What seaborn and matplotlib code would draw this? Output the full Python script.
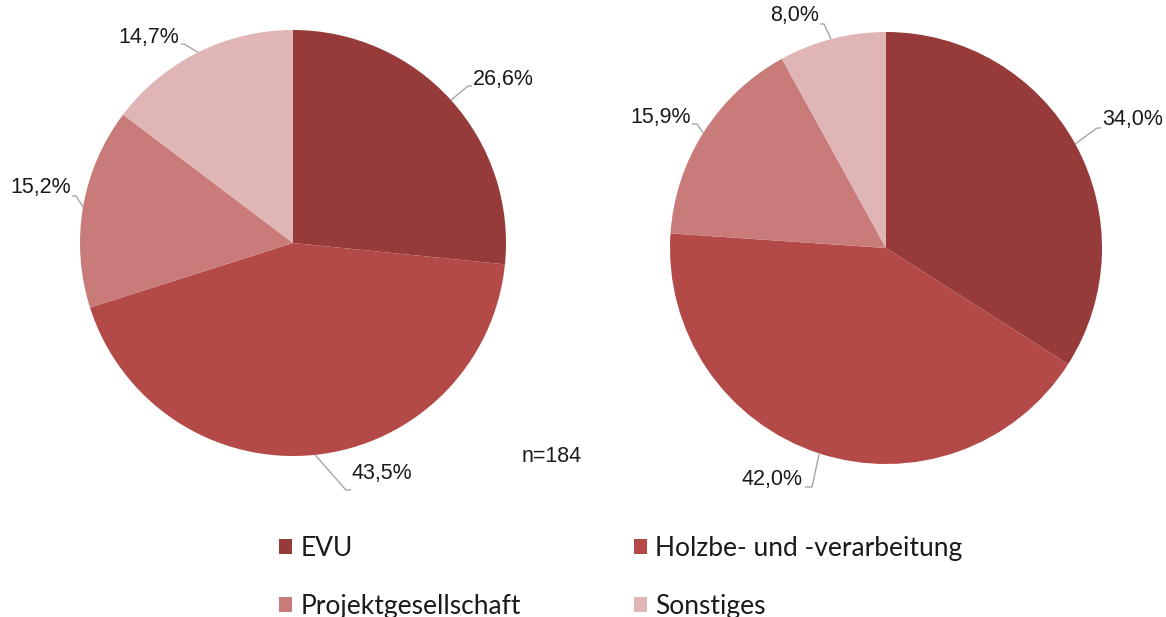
import numpy as np
import matplotlib
matplotlib.use("Agg")
import matplotlib.pyplot as plt
import seaborn as sns
from matplotlib.patches import Patch

# data
categories = ["EVU", "Holzbe- und -verarbeitung", "Projektgesellschaft", "Sonstiges"]
left_values = [26.6, 43.5, 15.2, 14.7]
right_values = [34.0, 42.0, 15.9, 8.0]
colors = ["#963a3a", "#b34a48", "#c97b7a", "#dfb6b5"]
n_note = "n=184"

sns.set_theme(style="white")
plt.rcParams["font.family"] = ["Liberation Sans", "DejaVu Sans"]

W, H = 1166, 617
fig = plt.figure(figsize=(W / 100, H / 100), dpi=100)
ax = fig.add_axes([0, 0, 1, 1])


def py(y):
    # pixel row -> axis y
    return H - y


def draw_pie(values, cx, cy, r, labels):
    ax.pie(values, colors=colors, startangle=90, counterclock=False,
           center=(cx, py(cy)), radius=r, wedgeprops=dict(linewidth=0),
           frame=True)
    cum = np.cumsum([0] + values[:-1])
    for v, c, (elbow, end, tx, ty, ha) in zip(values, cum, labels):
        ang = np.deg2rad(90 - (c + v / 2) * 3.6)
        ex, ey = cx + r * np.cos(ang), cy - r * np.sin(ang)
        ax.plot([ex, elbow[0], end[0]], [py(ey), py(elbow[1]), py(end[1])],
                color="#a6a6a6", lw=1.0, solid_capstyle="butt")
        ax.text(tx, py(ty), f"{v:.1f}%".replace(".", ","), ha=ha, va="center",
                fontsize=15.5, color="#1a1a1a")


# (elbow, line end, text x, text y, align)
left_labels = [
    ((468, 86), (472, 86), 473, 80, "left"),
    ((346, 490), (351, 490), 352, 473, "left"),
    ((76, 196), (72, 196), 71, 188, "right"),
    ((184, 44), (181, 44), 179, 38, "right"),
]
right_labels = [
    ((1097, 128), (1101, 128), 1102, 120, "left"),
    ((812, 487), (805, 487), 803, 480, "right"),
    ((697, 124), (692, 124), 691, 117, "right"),
    ((824, 24), (820, 24), 819, 16, "right"),
]

draw_pie(left_values, 293, 243, 213, left_labels)
draw_pie(right_values, 886, 248, 216, right_labels)
ax.set_xlim(0, W)
ax.set_ylim(0, H)
ax.set_aspect("equal")
ax.axis("off")

ax.text(522, py(457), n_note, ha="left", va="center", fontsize=15.5, color="#1a1a1a")

# legend fills column by column, so reorder to get row-wise layout
order = [0, 2, 1, 3]
handles = [Patch(facecolor=colors[i], edgecolor="none") for i in order]
fig.legend(handles, [categories[i] for i in order], ncol=2, loc="upper left",
           bbox_to_anchor=(266 / W, 1 - 523 / H), frameon=False,
           prop=dict(family="Lato", size=19), handlelength=0.5, handleheight=0.5,
           handletextpad=0.3, columnspacing=4.3, labelspacing=1.25, borderpad=0,
           labelcolor="#1a1a1a")

fig.savefig("out.png", dpi=100)
